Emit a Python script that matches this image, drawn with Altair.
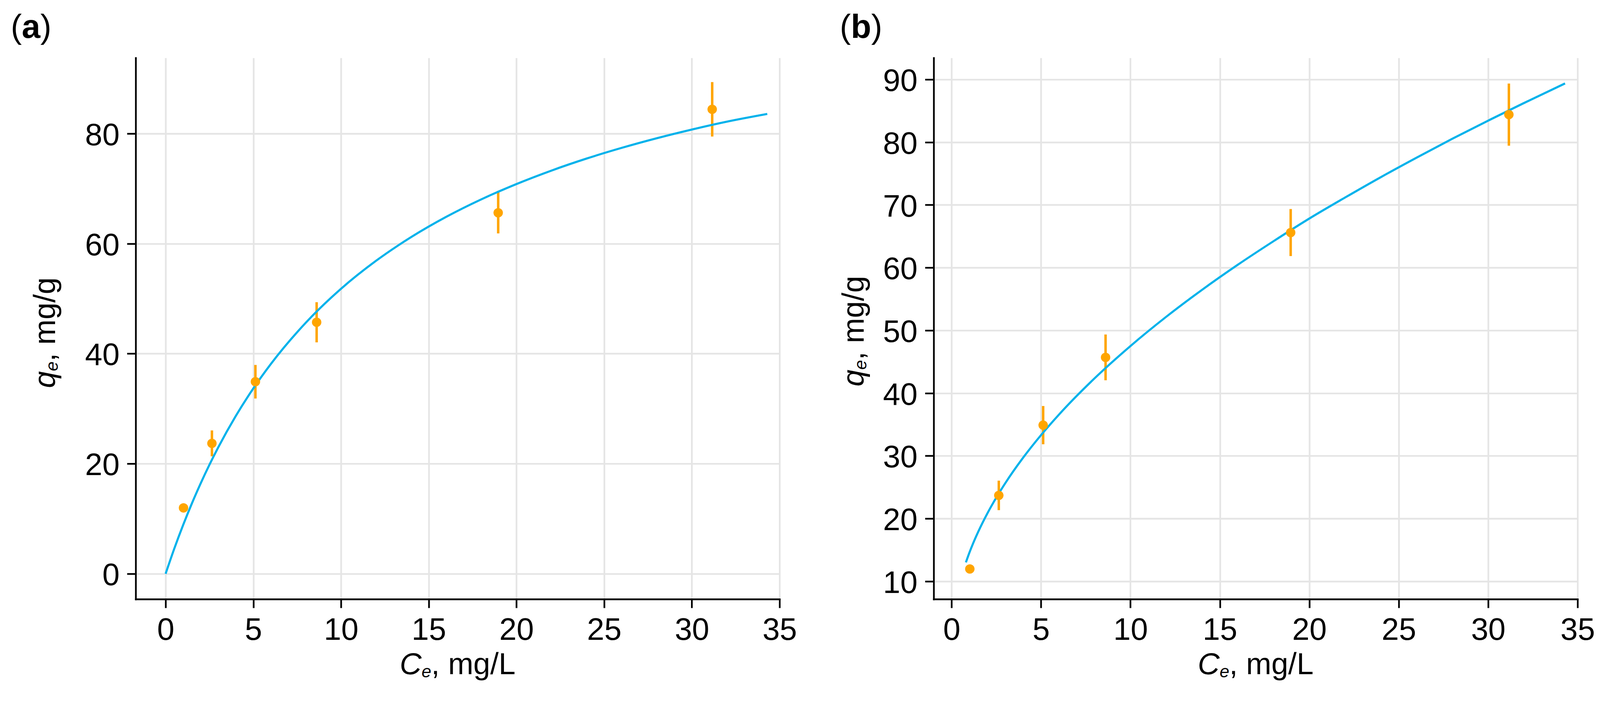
import altair as alt
import pandas as pd

FONT = "Liberation Sans"

# ---- data ----
ce = [1.02, 2.64, 5.12, 8.61, 18.96, 31.16]
qe = [11.97, 23.7, 34.9, 45.7, 65.6, 84.4]
qe_sd = [0.6, 2.35, 3.05, 3.65, 3.75, 4.95]

# fitted curve (a)
lang_x = [0, 0.5, 1, 1.5, 2, 2.5, 3, 4, 5, 6, 8, 10, 12, 14, 16, 18, 20, 22, 24, 26, 28, 30, 32, 34.3]
lang_y = [0, 4.62, 8.87, 12.80, 16.44, 19.82, 22.97, 28.67, 33.68, 38.12, 45.65, 51.79, 56.88, 61.18,
          64.86, 68.04, 70.82, 73.27, 75.45, 77.39, 79.14, 80.72, 82.15, 83.55]

# fitted curve (b)
freu_x = [0.8, 1, 1.2, 1.5, 2, 2.5, 3, 4, 5, 6, 8, 10, 12, 14, 16, 18, 20, 22, 24, 26, 28, 30, 32, 34.3]
freu_y = [13.02, 14.60, 16.03, 17.97, 20.83, 23.35, 25.64, 29.71, 33.31, 36.57, 42.38, 47.51, 52.17,
          56.46, 60.46, 64.22, 67.83, 71.18, 74.43, 77.54, 80.55, 83.44, 86.24, 89.37]

x_ticks = [0, 5, 10, 15, 20, 25, 30, 35]
a_y_ticks = [0, 20, 40, 60, 80]
b_y_ticks = [10, 20, 30, 40, 50, 60, 70, 80, 90]

x_title_parts = ["C", "e", ", mg/L"]
y_title_parts = ["q", "e", ", mg/g"]

ORANGE = "#FFA500"
BLUE = "#00B2EB"
W, H = 1700, 1430


def txt(s, x, y, dx=0, dy=0, size=80, style="normal", weight="normal", angle=None, align="left"):
    kw = dict(font=FONT, fontSize=size, fontStyle=style, fontWeight=weight,
              align=align, baseline="alphabetic", dx=dx, dy=dy, color="black")
    if angle is not None:
        kw["angle"] = angle
    return alt.Chart(pd.DataFrame({"t": [s]})).mark_text(**kw).encode(
        x=alt.value(x), y=alt.value(y), text="t:N")


def panel(cx, cy, xdom, ydom, yticks, letter, letter_x, ylab_x, ylab_y):
    pts = pd.DataFrame({"Ce": ce, "qe": qe,
                        "lo": [q - s for q, s in zip(qe, qe_sd)],
                        "hi": [q + s for q, s in zip(qe, qe_sd)]})
    curve = pd.DataFrame({"Ce": cx, "qe": cy})

    xs = alt.Scale(domain=xdom, nice=False, zero=False)
    ys = alt.Scale(domain=ydom, nice=False, zero=False)
    xax = alt.Axis(values=x_ticks, title=None, format="d")
    yax = alt.Axis(values=yticks, title=None, format="d")

    err = alt.Chart(pts).mark_rule(color=ORANGE, strokeWidth=6.5).encode(
        x=alt.X("Ce:Q", scale=xs, axis=xax),
        y=alt.Y("lo:Q", scale=ys, axis=yax),
        y2="hi:Q")
    line = alt.Chart(curve).mark_line(color=BLUE, strokeWidth=5.5, interpolate="monotone").encode(
        x=alt.X("Ce:Q", scale=xs, axis=xax),
        y=alt.Y("qe:Q", scale=ys, axis=yax))
    dots = alt.Chart(pts).mark_circle(color=ORANGE, opacity=1, size=620).encode(
        x=alt.X("Ce:Q", scale=xs, axis=xax),
        y=alt.Y("qe:Q", scale=ys, axis=yax))

    # x-axis title: italic C, subscript italic e, regular rest
    F, FS = 80, 46
    wC, we, wr = 0.722 * F, 0.556 * FS, 2.779 * F
    start = -(wC + we + wr) / 2
    xb = W / 2
    yb = H + 198
    xt = [txt(x_title_parts[0], xb, yb, dx=start, size=F, style="italic"),
          txt(x_title_parts[1], xb, yb, dx=start + wC, dy=8, size=FS, style="italic"),
          txt(x_title_parts[2], xb, yb, dx=start + wC + we, size=F)]

    wq = 0.556 * F
    ystart = -(wq + we + wr) / 2
    yt = [txt(y_title_parts[0], ylab_x, ylab_y, dx=ystart, size=F, style="italic", angle=270),
          txt(y_title_parts[1], ylab_x, ylab_y, dx=ystart + wq, dy=7, size=FS, style="italic", angle=270),
          txt(y_title_parts[2], ylab_x, ylab_y, dx=ystart + wq + we, size=F, angle=270)]

    TF = 88
    wp = 0.333 * TF
    wl = (0.556 if letter == "a" else 0.611) * TF
    ty = -53
    tt = [txt("(", letter_x, ty, size=TF),
          txt(letter, letter_x, ty, dx=wp, size=TF, weight="bold"),
          txt(")", letter_x, ty, dx=wp + wl, size=TF)]

    return alt.layer(err, line, dots, *xt, *yt, *tt).properties(width=W, height=H)


pa = panel(lang_x, lang_y, [-1.706, 35], [-4.61, 93.74], a_y_ticks, "a", -330, -213, 726)
pb = panel(freu_x, freu_y, [-1.0, 35], [7.16, 93.44], b_y_ticks, "b", -248, -185, 722)

chart = alt.hconcat(pa, pb, spacing=112).properties(
    padding={"left": 20, "top": -6, "right": 5, "bottom": 5}
).configure_view(stroke=None).configure_axis(
    labelFont=FONT, labelFontSize=82, labelColor="black",
    labelFlush=False, labelOverlap=False, labelBound=False,
    domainColor="black", domainWidth=4.5, domainCap="square",
    tickColor="black", tickWidth=4.5, tickSize=23,
    gridColor="#e5e5e5", gridWidth=4.5,
).configure_axisX(labelPadding=19).configure_axisY(labelPadding=20, labelOffset=5)

chart.save("out.html", embed_options={"renderer": "svg", "actions": False})
